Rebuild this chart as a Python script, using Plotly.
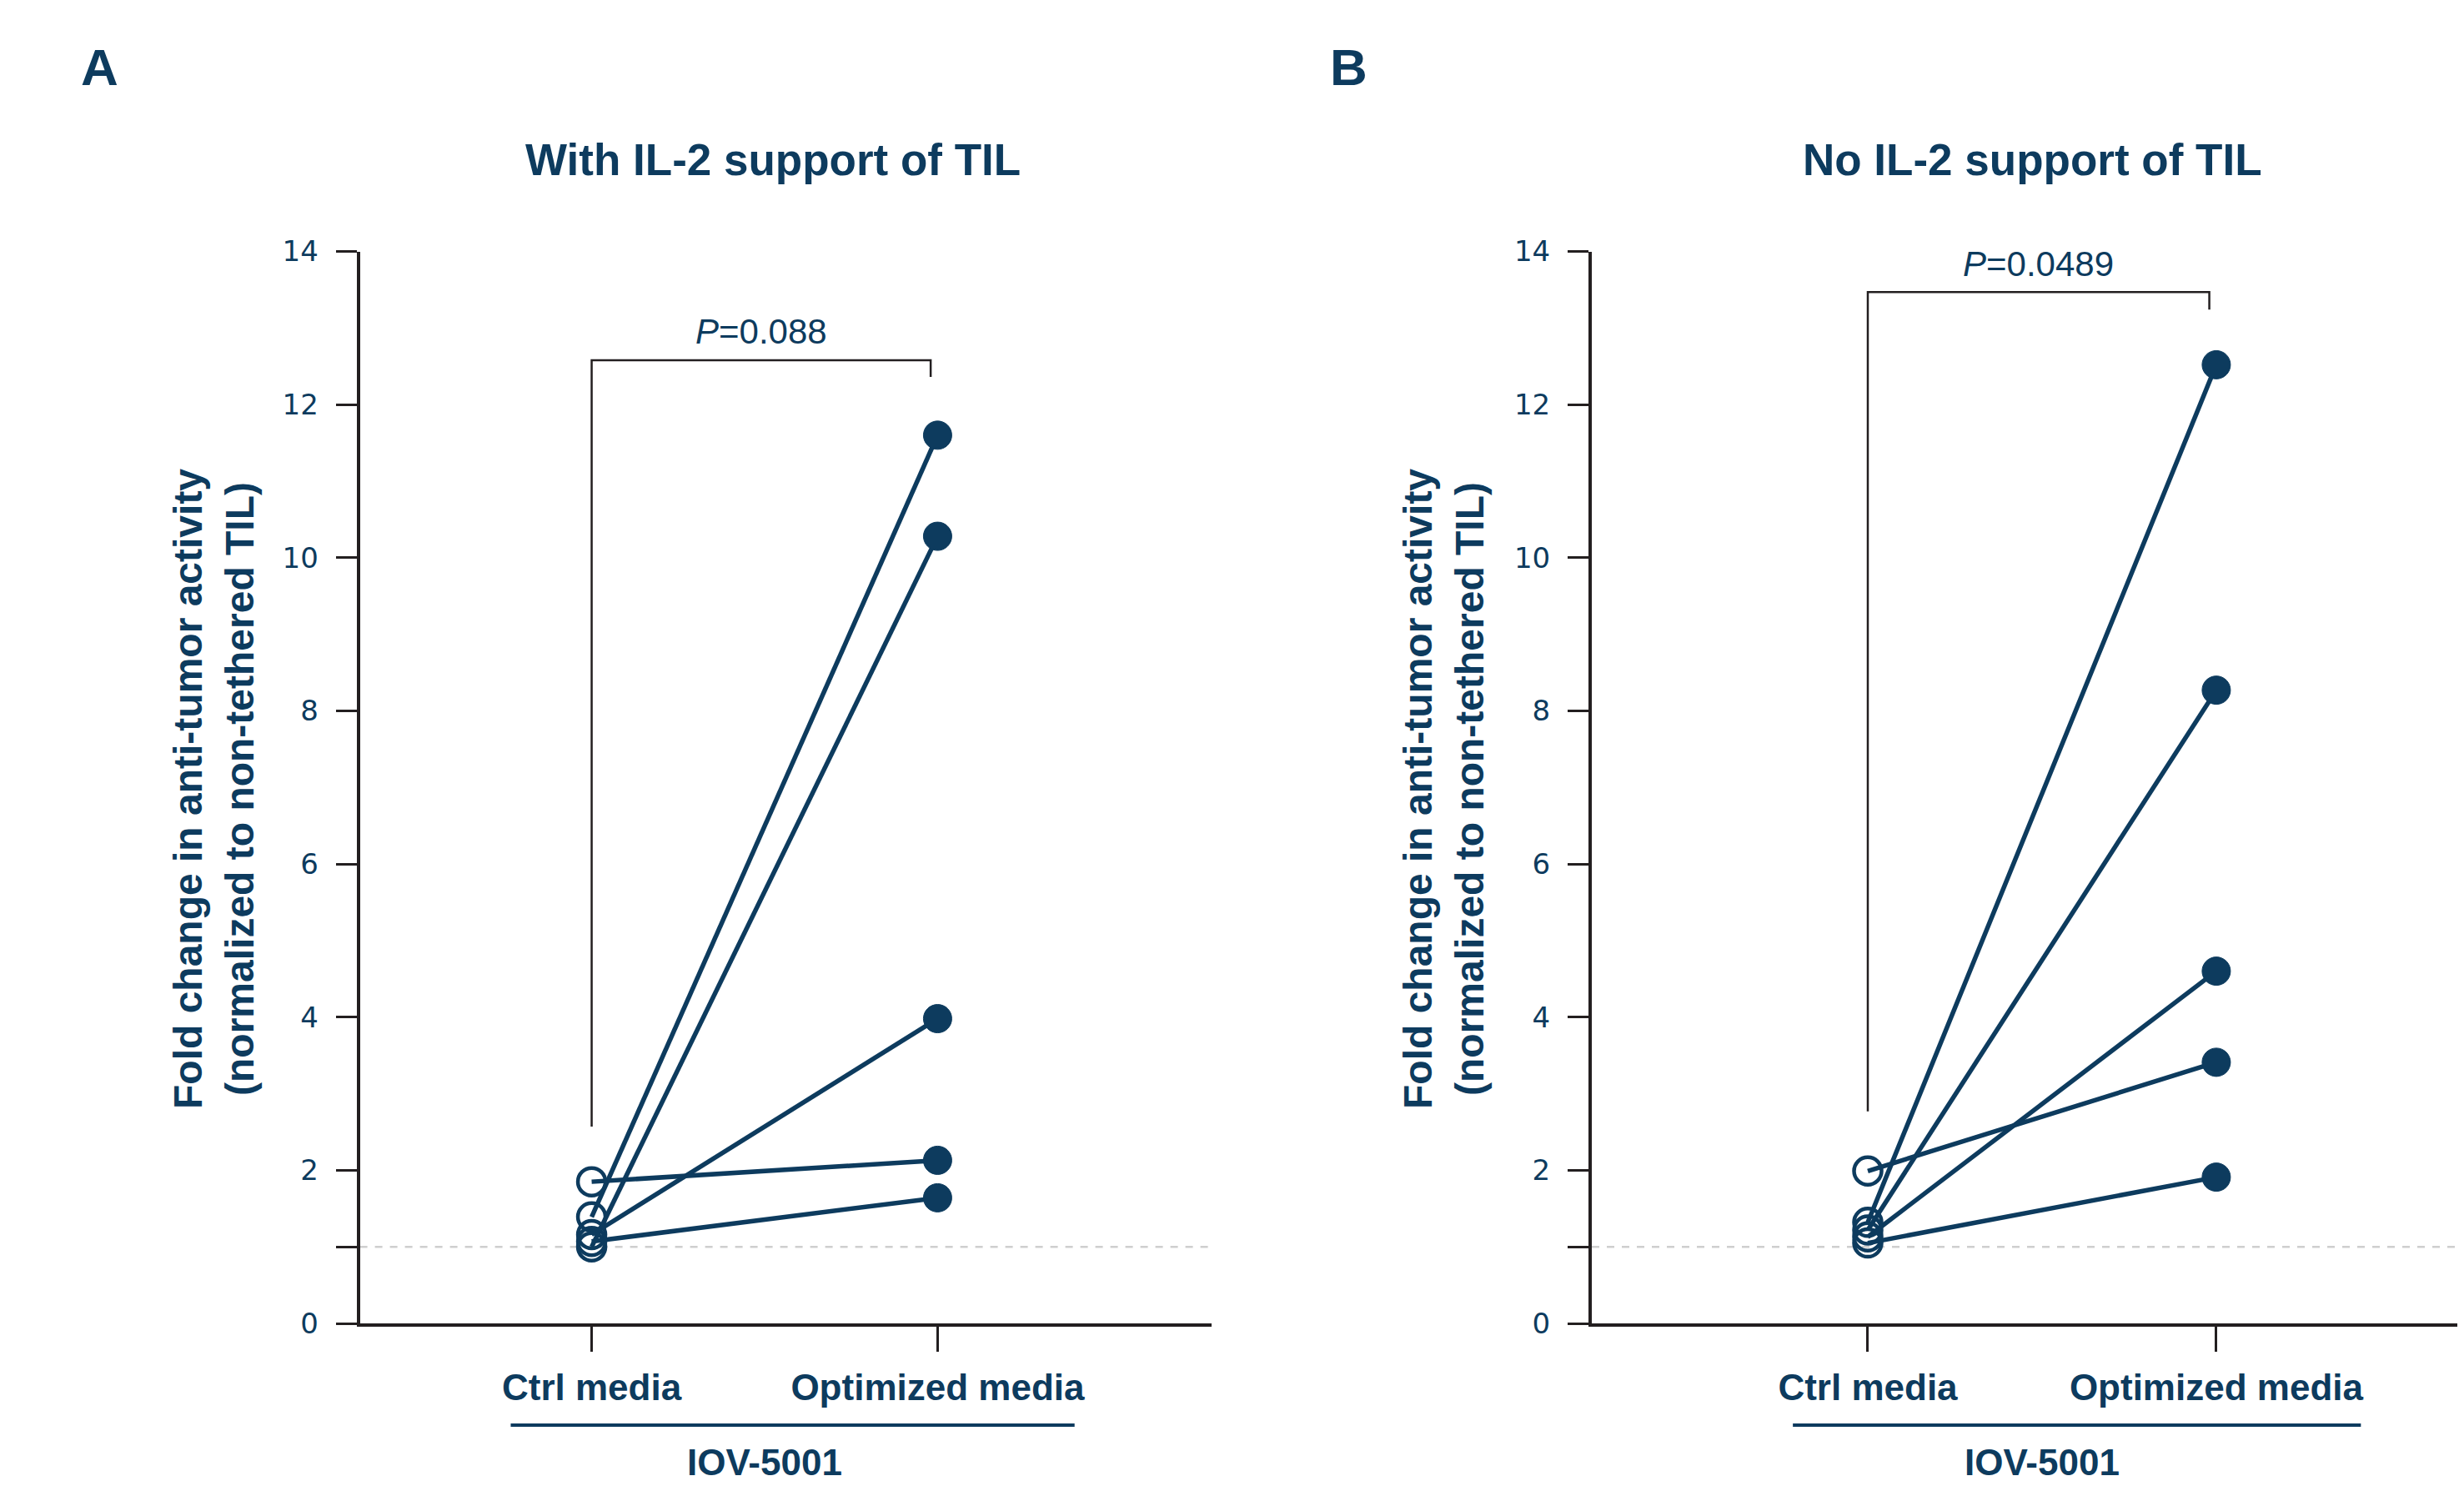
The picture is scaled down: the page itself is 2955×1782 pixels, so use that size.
import plotly.graph_objects as go

# ---------------- data ----------------
categories = ["Ctrl media", "Optimized media"]
ctrl_A = [1.39, 1.00, 1.16, 1.85, 1.07]
opt_A = [11.60, 10.28, 3.98, 2.13, 1.64]
ctrl_B = [1.32, 1.22, 1.13, 1.99, 1.05]
opt_B = [12.52, 8.27, 4.60, 3.41, 1.91]
y_ticks = [0, 1, 2, 4, 6, 8, 10, 12, 14]
y_ticktext = ["0", "", "2", "4", "6", "8", "10", "12", "14"]
p_A = "P=0.088"
p_B = "P=0.0489"
titles = ["With IL-2 support of TIL", "No IL-2 support of TIL"]
panel_letters = ["A", "B"]
group_label = "IOV-5001"
ylab = "Fold change in anti-tumor activity<br>(normalized to non-tethered TIL)"

NAVY = "#0d3b5e"
DARK = "#231f20"
FONT = "Liberation Sans, Arial, sans-serif"
TICKFONT = "DejaVu Sans, sans-serif"
W, H = 2955, 1782
OFF = 8  # page body margin offset


def px(v):
    return (v - OFF) / W


def py(v):
    return 1 - (v - OFF) / H


fig = go.Figure()


def add_panel(ctrl, opt, xa, ya):
    for c, o in zip(ctrl, opt):
        fig.add_trace(go.Scatter(
            x=[0, 1], y=[c, o], mode="lines",
            line=dict(color=NAVY, width=5.5),
            xaxis=xa, yaxis=ya, showlegend=False, hoverinfo="skip"))
    fig.add_trace(go.Scatter(
        x=[0] * len(ctrl), y=ctrl, mode="markers",
        marker=dict(symbol="circle-open", size=33, color=NAVY, opacity=1,
                    line=dict(color=NAVY, width=4.5)),
        xaxis=xa, yaxis=ya, showlegend=False, hoverinfo="skip"))
    fig.add_trace(go.Scatter(
        x=[1] * len(opt), y=opt, mode="markers",
        marker=dict(symbol="circle", size=34, color=NAVY, opacity=1,
                    line=dict(color=NAVY, width=1)),
        xaxis=xa, yaxis=ya, showlegend=False, hoverinfo="skip"))


add_panel(ctrl_A, opt_A, "x", "y")
add_panel(ctrl_B, opt_B, "x2", "y2")

ydom = [py(1587), py(301.5)]
xrangeA = [-0.670, 1.792]
xrangeB = [-0.792, 1.730]

common_x = dict(
    tickvals=[0, 1], ticktext=categories, ticks="outside", ticklen=30, tickwidth=2.5,
    tickcolor=DARK, showline=True, linecolor=DARK, linewidth=3.5, showgrid=False,
    zeroline=False, automargin=False,
    tickfont=dict(family=FONT, size=44, color=NAVY, weight="bold"),
    ticklabelstandoff=5)
common_y = dict(
    range=[0, 14], tickvals=y_ticks, ticktext=y_ticktext, ticks="outside", ticklen=25,
    tickwidth=2.5, tickcolor=DARK, showline=True, linecolor=DARK, linewidth=4,
    showgrid=False, zeroline=False, automargin=False,
    tickfont=dict(family=TICKFONT, size=34, color=NAVY),
    ticklabelstandoff=14)

fig.update_layout(
    width=W, height=H, margin=dict(l=0, r=0, t=0, b=0, autoexpand=False),
    plot_bgcolor="white", paper_bgcolor="white",
    xaxis=dict(domain=[px(431.6), px(1453)], range=xrangeA, anchor="y", **common_x),
    yaxis=dict(domain=ydom, anchor="x", **common_y),
    xaxis2=dict(domain=[px(1909), 1.0], range=xrangeB, anchor="y2", **common_x),
    yaxis2=dict(domain=ydom, anchor="x2", **common_y),
)

shapes = []
annotations = []
panels = [
    ("x", "y", p_A, 12.58, 12.36, 2.57, 0.98, -0.234, 1.396, 927, 119, 256),
    ("x2", "y2", p_B, 13.47, 13.24, 2.77, 0.98, -0.215, 1.415, 2437, 1617, 1731),
]
for i, (xa, ya, ptxt, ytop, yright, yleft, xr, ul0, ul1, tx, lx, ylx) in enumerate(panels):
    # reference dashed line at 1
    shapes.append(dict(type="line", xref=f"{xa} domain", yref=ya, x0=0, x1=1, y0=1, y1=1,
                       line=dict(color="#cfcfcf", width=2.5, dash="dash"), layer="below"))
    # significance bracket
    shapes.append(dict(type="path", xref=xa, yref=ya,
                       path=f"M 0,{yleft} L 0,{ytop} L {xr},{ytop} L {xr},{yright}",
                       line=dict(color=DARK, width=2.5)))
    annotations.append(dict(xref=xa, yref=ya, x=0.49, y=ytop + 0.37, showarrow=False,
                            xanchor="center", yanchor="middle",
                            text="<i>P</i>" + ptxt[1:],
                            font=dict(family=FONT, size=42, color=NAVY)))
    # group underline
    shapes.append(dict(type="line", xref=xa, yref="paper", x0=ul0, x1=ul1,
                       y0=py(1709), y1=py(1709), line=dict(color=NAVY, width=4)))
    annotations.append(dict(xref=xa, yref="paper", x=0.5, y=py(1753),
                            showarrow=False, xanchor="center", yanchor="middle",
                            text=group_label,
                            font=dict(family=FONT, size=44, color=NAVY, weight="bold")))
    # title
    annotations.append(dict(xref="paper", yref="paper", x=px(tx), y=py(192),
                            showarrow=False, xanchor="center", yanchor="middle",
                            text=titles[i],
                            font=dict(family=FONT, size=53, color=NAVY, weight="bold")))
    # panel letter
    annotations.append(dict(xref="paper", yref="paper", x=px(lx), y=py(81),
                            showarrow=False, xanchor="center", yanchor="middle",
                            text=panel_letters[i],
                            font=dict(family=FONT, size=62, color=NAVY, weight="bold")))
    # y axis label
    annotations.append(dict(xref="paper", yref="paper", x=px(ylx), y=py(946),
                            showarrow=False, textangle=-90,
                            xanchor="center", yanchor="middle", text=ylab,
                            font=dict(family=FONT, size=48, color=NAVY, weight="bold")))

fig.update_layout(shapes=shapes, annotations=annotations)
fig.write_html("out.html")
